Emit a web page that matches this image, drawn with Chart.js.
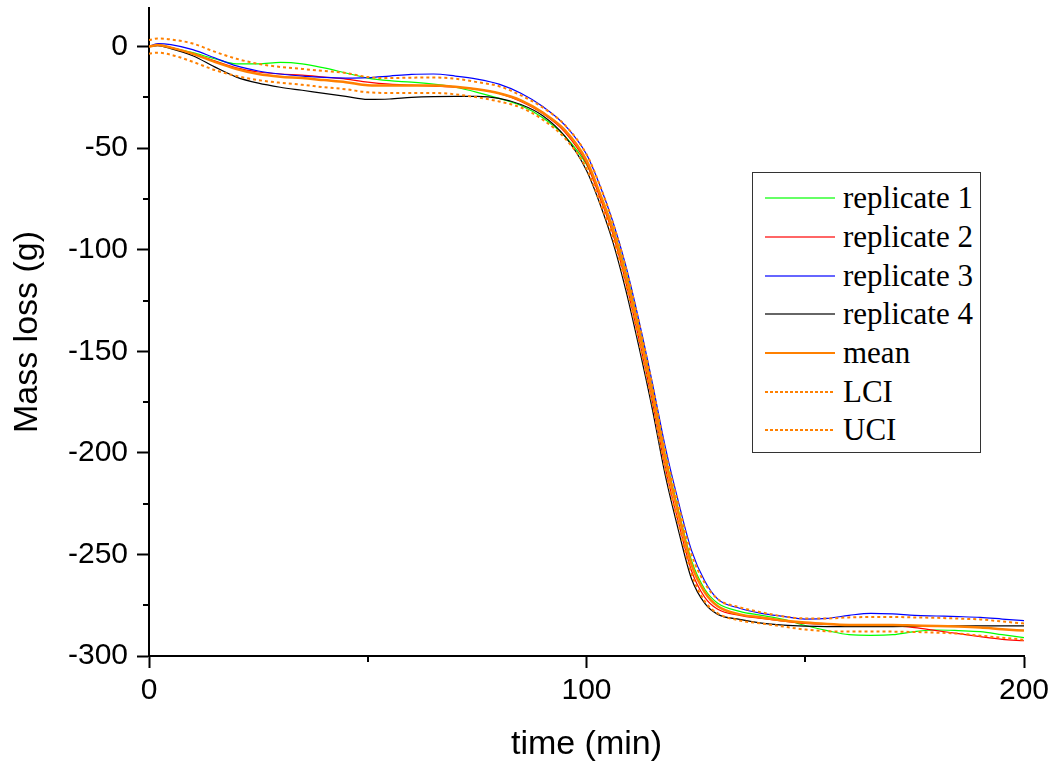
<!DOCTYPE html>
<html>
<head>
<meta charset="utf-8">
<script src="https://cdn.jsdelivr.net/npm/chart.js@4/dist/chart.umd.min.js"></script>
<style>
  body { margin: 0; background: #fff; }
  #wrap { position: relative; width: 1051px; height: 767px; }
  #legend {
    position: absolute; left: 752px; top: 172px; width: 227px; height: 273px;
    border: 1.5px solid #333; background: #fff; box-sizing: content-box;
    font-family: "Liberation Serif", "Times New Roman", serif; font-size: 31px; color: #000;
    padding-top: 6px;
  }
  #legend .row { display: flex; align-items: center; height: 38.7px; }
  #legend .sample { width: 70px; height: 2px; margin-left: 12px; margin-right: 8px; }
</style>
</head>
<body>
<div id="wrap">
  <canvas id="myChart" width="1051" height="767"></canvas>
  <div id="legend"></div>
</div>
<script>
// time (min)
const time = [0, 2, 5, 10, 15, 20, 25, 30, 35, 40, 45, 50, 55, 60, 65, 70, 75, 80, 85, 90,
  95, 100, 103, 106, 109, 112, 115, 118, 121, 124, 127, 130, 135, 140, 145, 150, 155, 160,
  165, 170, 175, 180, 185, 190, 195, 200];

// mass loss (g)
const rep1 = [0, 0.8, -0.5, -3, -6, -8.5, -8.5, -7.8, -8.5, -10.5, -13, -15.5, -16.8, -17.5,
  -18.5, -20, -22.5, -25.5, -29, -35, -44, -58, -72, -89, -111, -138, -168, -201, -228, -253,
  -267, -274, -278, -280, -282, -285, -287.5, -289.5, -289.8, -289.5, -288, -287.2, -287.5,
  -288, -289.5, -291];
const rep2 = [0, 0.8, -0.5, -3.5, -7, -10.5, -12.5, -13.5, -14, -15, -16, -17.5, -18.5, -19,
  -19.5, -20, -21, -23, -27, -33, -42, -57.5, -74, -92, -116, -144, -174, -207, -234, -258,
  -271, -277, -280, -281.5, -282.8, -284, -284.5, -284.7, -284.8, -285, -286, -287.5, -289,
  -290.5, -291.8, -292.5];
const rep3 = [0, 1.5, 1, -1.5, -5.5, -9.5, -12, -13.5, -14.5, -15.2, -15.5, -15.3, -14.5,
  -13.7, -13.5, -14.5, -16, -18.5, -23, -29.5, -38.5, -53, -68, -86, -108, -135, -165, -197,
  -224, -248, -263, -272, -276.5, -279, -280.5, -281.8, -281.5, -280, -279, -279.3, -280,
  -280.3, -280.6, -281, -281.8, -282.6];
const rep4 = [0, 0.5, -1, -4.5, -10, -15, -18, -20, -21.5, -23, -24.5, -26, -25.8, -25, -24.6,
  -24.5, -24.5, -25.5, -28.5, -34, -44, -61, -77, -96, -120, -148, -178, -211, -238, -262,
  -274, -279.5, -282, -283.8, -284.8, -285.3, -285.5, -285.5, -285.5, -285.5, -285.4, -285.3,
  -285.2, -285.2, -285.2, -285.2];
const mean = [0, 0.8, -0.5, -3.5, -7.5, -11, -13.5, -14.8, -15.5, -16.5, -17.5, -19, -19.2,
  -19.2, -19.2, -19.8, -21, -23, -26.5, -32.5, -41, -56, -72, -90, -113, -140, -170, -203,
  -230, -255, -268.5, -275.5, -279.5, -281, -282.5, -283.5, -284.2, -284.7, -284.8, -284.8,
  -285, -285.2, -285.5, -286, -286.8, -287.5];
const lci = [-3.5, -3, -4, -7.5, -11.5, -14.5, -16.5, -17.8, -18.8, -20, -21, -22.5, -22.8,
  -22.8, -22.8, -23.5, -25, -27, -30, -36, -45, -60, -76, -94, -117, -145, -175, -208, -235,
  -259.5, -273, -279, -282.5, -284, -285.5, -287, -287.8, -288, -288, -288, -288.2, -288.5,
  -289, -290, -291, -292];
const uci = [3.2, 4, 3.5, 1.5, -2.5, -6, -8.5, -10, -11, -12, -13, -15, -15.5, -15.3, -15.2,
  -15.8, -17.5, -19.5, -24, -30, -38.5, -53, -68, -86.5, -109, -136, -166, -199, -225.5, -250,
  -264, -272, -276, -278.5, -280.5, -281.5, -281.5, -281, -280.8, -280.8, -281, -281.2,
  -281.6, -282, -283, -284];

const xMinor = [50, 150];
const yMinor = [-25, -75, -125, -175, -225, -275];

const pts = (ys) => time.map((t, i) => ({ x: t, y: ys[i] }));

const ORANGE = "#ff8000";

const minorTicks = {
  id: "minorTicks",
  afterDraw(chart) {
    const { ctx, scales } = chart;
    ctx.save();
    ctx.strokeStyle = "#000";
    ctx.lineWidth = 2;
    ctx.beginPath();
    xMinor.forEach((v) => {
      const px = Math.round(scales.x.getPixelForValue(v));
      ctx.moveTo(px, scales.x.top);
      ctx.lineTo(px, scales.x.top + 6);
    });
    yMinor.forEach((v) => {
      const py = Math.round(scales.y.getPixelForValue(v));
      ctx.moveTo(scales.y.right, py);
      ctx.lineTo(scales.y.right - 6, py);
    });
    ctx.stroke();
    ctx.restore();
  },
};

const htmlLegend = {
  id: "htmlLegend",
  afterUpdate(chart) {
    const box = document.getElementById("legend");
    box.innerHTML = "";
    chart.data.datasets.forEach((ds) => {
      const row = document.createElement("div");
      row.className = "row";
      const s = document.createElement("span");
      s.className = "sample";
      if (ds.borderDash && ds.borderDash.length) {
        s.style.background = `repeating-linear-gradient(to right, ${ds.borderColor} 0 3px, transparent 3px 5px)`;
      } else {
        s.style.background = ds.borderColor;
        if (ds.borderWidth < 2) s.style.opacity = 0.6;
      }
      const txt = document.createElement("span");
      txt.textContent = ds.label;
      row.appendChild(s);
      row.appendChild(txt);
      box.appendChild(row);
    });
  },
};

new Chart(document.getElementById("myChart"), {
  type: "line",
  data: {
    datasets: [
      { label: "replicate 1", data: pts(rep1), borderColor: "#00ff00", borderWidth: 1.2, order: 5 },
      { label: "replicate 2", data: pts(rep2), borderColor: "#ff0000", borderWidth: 1.2, order: 4 },
      { label: "replicate 3", data: pts(rep3), borderColor: "#0000ff", borderWidth: 1.2, order: 3 },
      { label: "replicate 4", data: pts(rep4), borderColor: "#000000", borderWidth: 1.2, order: 2 },
      { label: "mean", data: pts(mean), borderColor: ORANGE, borderWidth: 2.5, order: 1 },
      { label: "LCI", data: pts(lci), borderColor: ORANGE, borderWidth: 2, borderDash: [3, 3], order: 0 },
      { label: "UCI", data: pts(uci), borderColor: ORANGE, borderWidth: 2, borderDash: [3, 3], order: 0 },
    ],
  },
  options: {
    responsive: false,
    animation: false,
    devicePixelRatio: 1,
    layout: { padding: { left: 0, right: 27, top: 8, bottom: 0 } },
    elements: {
      point: { radius: 0 },
      line: { cubicInterpolationMode: "monotone", fill: false },
    },
    plugins: {
      legend: { display: false },
      tooltip: { enabled: false },
    },
    scales: {
      x: {
        type: "linear",
        min: 0,
        max: 200,
        afterFit: (s) => { s.height = 111; s.paddingLeft = 0; s.paddingRight = 0; },
        border: { color: "#000", width: 2 },
        grid: { drawOnChartArea: false, drawTicks: true, tickLength: 12, tickColor: "#000", tickWidth: 2 },
        ticks: {
          stepSize: 100,
          color: "#000",
          padding: 5,
          font: { family: "'Liberation Sans', Arial, sans-serif", size: 30 },
        },
        title: {
          display: true,
          text: "time (min)",
          color: "#000",
          padding: { top: 0, bottom: 2 },
          font: { family: "'Liberation Sans', Arial, sans-serif", size: 34 },
        },
      },
      y: {
        type: "linear",
        min: -300,
        max: 19,
        afterFit: (s) => { s.width = 149; s.paddingTop = 0; s.paddingBottom = 0; },
        border: { color: "#000", width: 2 },
        grid: { drawOnChartArea: false, drawTicks: true, tickLength: 12, tickColor: "#000", tickWidth: 2 },
        ticks: {
          stepSize: 50,
          includeBounds: false,
          color: "#000",
          padding: 9,
          font: { family: "'Liberation Sans', Arial, sans-serif", size: 30 },
        },
        title: {
          display: true,
          text: "Mass loss (g)",
          color: "#000",
          padding: { top: 7, bottom: 0 },
          font: { family: "'Liberation Sans', Arial, sans-serif", size: 34 },
        },
      },
    },
  },
  plugins: [minorTicks, htmlLegend],
});
</script>
</body>
</html>
